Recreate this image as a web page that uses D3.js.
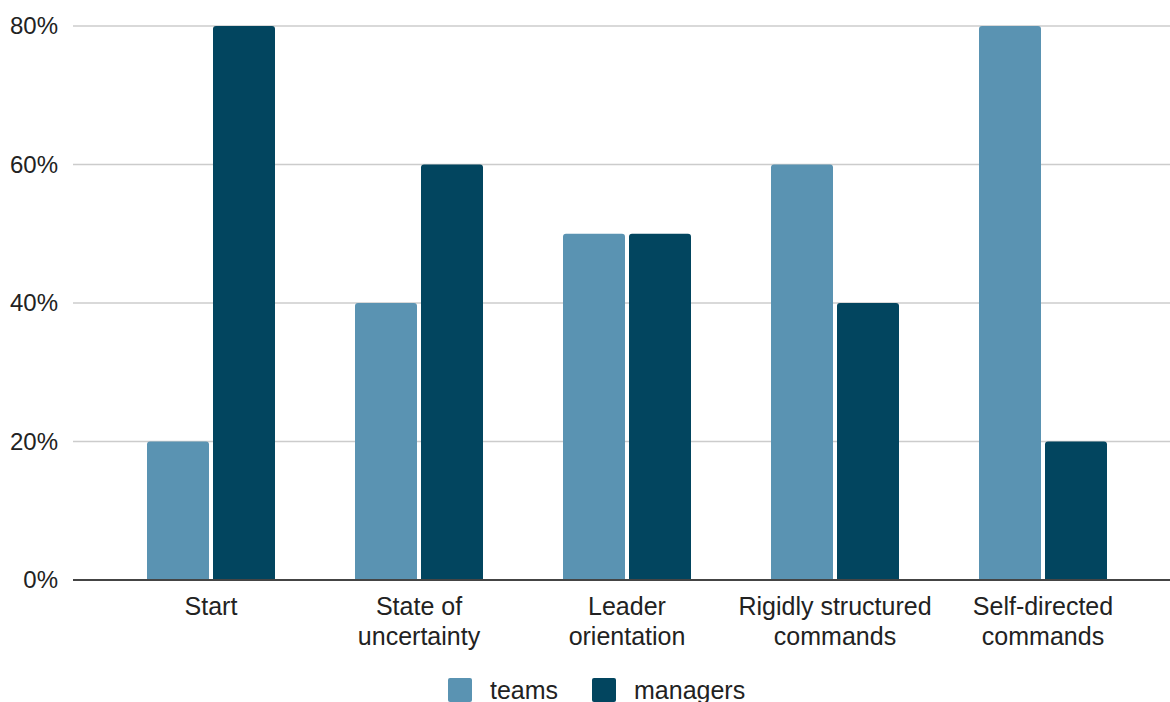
<!DOCTYPE html>
<html>
<head>
<meta charset="utf-8">
<script src="https://cdn.jsdelivr.net/npm/d3@7"></script>
<style>
  body { margin: 0; background: #fff; }
  svg { display: block; font-family: "Liberation Sans", Arial, sans-serif; }
</style>
</head>
<body>
<div id="chart"></div>
<script>
// categories (two-line labels) and series values
const categorias = [
  ['Start'],
  ['State of', 'uncertainty'],
  ['Leader', 'orientation'],
  ['Rigidly structured', 'commands'],
  ['Self-directed', 'commands']
];
const series = ['teams', 'managers'];
const teams = [0.2, 0.4, 0.5, 0.6, 0.8];
const managers = [0.8, 0.6, 0.5, 0.4, 0.2];
const yTicks = [0, 0.2, 0.4, 0.6, 0.8];

const cores = { teams: '#5a93b2', managers: '#02455f' };
const largura = 1170, altura = 702;

const svg = d3.select('#chart').append('svg')
  .attr('width', largura).attr('height', altura);

const chaves = categorias.map(c => c.join(' '));

const x0 = d3.scaleBand()
  .domain(chaves)
  .range([107, 1147])
  .paddingInner(80 / 208)
  .paddingOuter(40 / 208);

const x1 = d3.scaleBand()
  .domain(series)
  .range([0, x0.bandwidth()])
  .paddingInner(4 / 66);

const y = d3.scaleLinear().domain([0, 0.8]).range([580, 26]);

// grid lines
svg.append('g')
  .selectAll('line')
  .data(yTicks.filter(t => t > 0))
  .enter().append('line')
  .attr('x1', 73).attr('x2', largura)
  .attr('y1', d => y(d)).attr('y2', d => y(d))
  .attr('stroke', '#cccccc').attr('stroke-width', 1.5);

// y axis labels
const eixoY = svg.append('g')
  .attr('transform', 'translate(73,0)')
  .call(d3.axisLeft(y).tickValues(yTicks).tickFormat(d3.format('.0%')).tickSize(0).tickPadding(15));
eixoY.select('.domain').remove();
eixoY.selectAll('text')
  .style('font-size', '24px')
  .style('font-family', '"Liberation Sans", Arial, sans-serif')
  .attr('fill', '#222');

// bars with rounded top corners
function barra(x, yt, w, h, r) {
  r = Math.min(r, h, w / 2);
  return `M${x},${yt + h}V${yt + r}Q${x},${yt} ${x + r},${yt}H${x + w - r}Q${x + w},${yt} ${x + w},${yt + r}V${yt + h}Z`;
}

const dados = chaves.map((k, i) => ({ k, valores: { teams: teams[i], managers: managers[i] } }));

const grupos = svg.append('g').selectAll('g')
  .data(dados)
  .enter().append('g')
  .attr('transform', d => `translate(${x0(d.k)},0)`);

grupos.selectAll('path')
  .data(d => series.map(s => ({ s, v: d.valores[s] })))
  .enter().append('path')
  .attr('d', d => barra(x1(d.s), y(d.v), x1.bandwidth(), y(0) - y(d.v), 3))
  .attr('fill', d => cores[d.s]);

// baseline
svg.append('line')
  .attr('x1', 73).attr('x2', largura)
  .attr('y1', y(0)).attr('y2', y(0))
  .attr('stroke', '#444').attr('stroke-width', 2);

// x labels
const rotulos = svg.append('g').selectAll('text')
  .data(categorias)
  .enter().append('text')
  .attr('x', (d, i) => x0(chaves[i]) + x0.bandwidth() / 2)
  .attr('y', 615)
  .attr('text-anchor', 'middle')
  .style('font-size', '25px')
  .attr('fill', '#222');
rotulos.selectAll('tspan')
  .data(d => d)
  .enter().append('tspan')
  .attr('x', function() { return d3.select(this.parentNode).attr('x'); })
  .attr('dy', (d, i) => i === 0 ? 0 : 30)
  .text(d => d);

// legend
const legenda = svg.append('g');
const posLeg = [{ s: 'teams', x: 448 }, { s: 'managers', x: 592 }];
posLeg.forEach(p => {
  legenda.append('rect')
    .attr('x', p.x).attr('y', 678).attr('width', 24).attr('height', 24)
    .attr('rx', 2).attr('fill', cores[p.s]);
  legenda.append('text')
    .attr('x', p.x + 42).attr('y', 699)
    .style('font-size', '25px')
    .attr('fill', '#222')
    .text(p.s);
});
</script>
</body>
</html>
